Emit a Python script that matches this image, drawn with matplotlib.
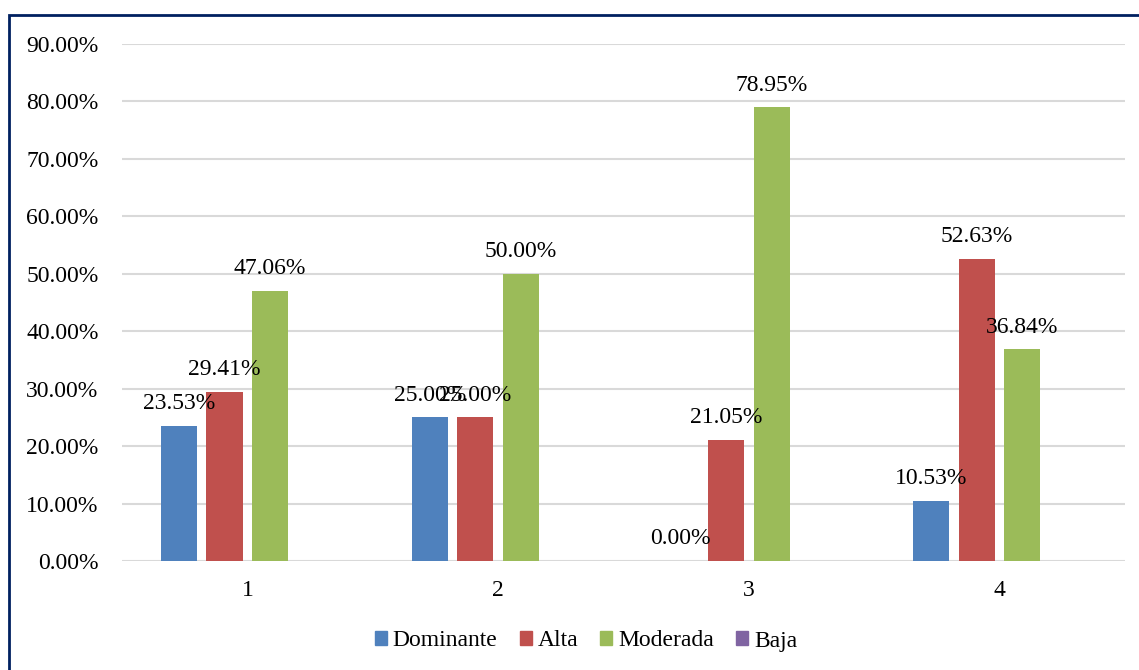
import matplotlib
matplotlib.use("Agg")
import matplotlib.pyplot as plt
import matplotlib.patches as mpatches
import numpy as np

categories = ["1", "2", "3", "4"]
series_names = ["Dominante", "Alta", "Moderada", "Baja"]
dominante = [23.53, 25.00, 0.00, 10.53]
alta = [29.41, 25.00, 21.05, 52.63]
moderada = [47.06, 50.00, 78.95, 36.84]
baja = [np.nan, np.nan, np.nan, np.nan]
colors = ["#4F81BD", "#C0504D", "#9BBB59", "#8064A2"]
yticks = [0, 10, 20, 30, 40, 50, 60, 70, 80, 90]

plt.rcParams['font.family'] = ['Liberation Serif', 'DejaVu Serif']

fig = plt.figure(figsize=(11.39, 6.70), dpi=100)
ax = fig.add_axes([0.1071, 0.1627, 0.8806, 0.7716])

x = np.arange(len(categories))
pitch = 0.182
width = 0.144
all_series = [dominante, alta, moderada, baja]
handles = []
for i, (name, vals, c) in enumerate(zip(series_names, all_series, colors)):
    offs = (i - 1.5) * pitch
    v = np.array(vals, dtype=float)
    ax.bar(x + offs, np.nan_to_num(v), width, color=c, label=name, zorder=3)
    for xi, val in zip(x + offs, v):
        if np.isnan(val):
            continue
        ax.annotate(f"{val:.2f}%", (xi, val), xytext=(0, 8.5), textcoords="offset points",
                    ha="center", va="bottom", fontsize=17, color="black", zorder=4)
    handles.append(mpatches.Patch(color=c, label=name))

ax.set_xlim(-0.5, 3.5)
ax.set_ylim(0, 90)
ax.set_yticks(yticks)
ax.set_yticklabels([f"{t:.2f}%" for t in yticks], fontsize=17)
ax.set_xticks(x)
ax.set_xticklabels(categories, fontsize=17)
ax.tick_params(axis='y', length=0, pad=17)
ax.tick_params(axis='x', length=0, pad=14)
for s in ax.spines.values():
    s.set_visible(False)
ax.yaxis.grid(True, color="#D9D9D9", linewidth=1.5, zorder=0)
ax.set_axisbelow(True)

fig.legend(handles=handles, loc="center", bbox_to_anchor=(586/1139, 1-641/670), ncol=4,
           frameon=False, fontsize=17, handlelength=0.5, handleheight=0.5,
           handletextpad=0.25, columnspacing=0.95)

border = mpatches.Rectangle((9/1139, -0.2), 1.3, 0.2 + 1 - 15/670, transform=fig.transFigure,
                            fill=False, edgecolor="#002060", linewidth=2, clip_on=False)
fig.patches.append(border)

fig.savefig("out.png", dpi=100)
